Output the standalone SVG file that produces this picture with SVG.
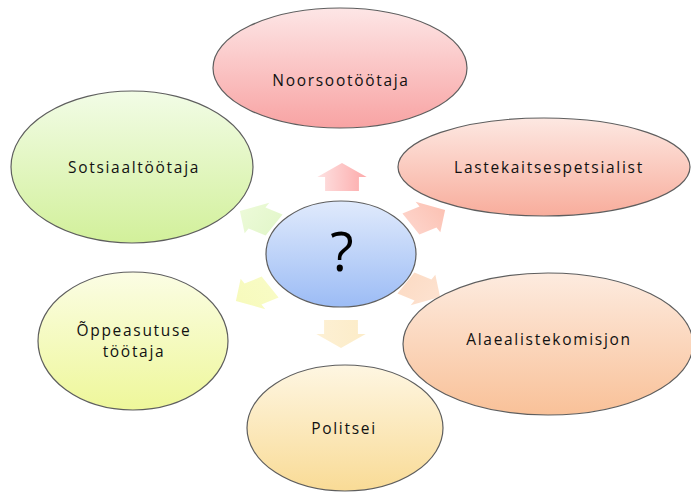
<svg xmlns="http://www.w3.org/2000/svg" width="691" height="495" viewBox="0 0 691 495">
<defs>
<linearGradient id="gRed" x1="0" y1="0" x2="0" y2="1"><stop offset="0" stop-color="#fde6e6"/><stop offset="1" stop-color="#f8a3a3"/></linearGradient>
<linearGradient id="gSalmon" x1="0" y1="0" x2="0" y2="1"><stop offset="0" stop-color="#fde8e2"/><stop offset="1" stop-color="#f8ad9c"/></linearGradient>
<linearGradient id="gPeach" x1="0" y1="0" x2="0" y2="1"><stop offset="0" stop-color="#fdebdf"/><stop offset="1" stop-color="#f9c198"/></linearGradient>
<linearGradient id="gOrange" x1="0" y1="0" x2="0" y2="1"><stop offset="0" stop-color="#fef6e2"/><stop offset="1" stop-color="#f9db96"/></linearGradient>
<linearGradient id="gYellow" x1="0" y1="0" x2="0" y2="1"><stop offset="0" stop-color="#fbfde4"/><stop offset="1" stop-color="#eef79a"/></linearGradient>
<linearGradient id="gGreen" x1="0" y1="0" x2="0" y2="1"><stop offset="0" stop-color="#f2fce6"/><stop offset="1" stop-color="#d2f09a"/></linearGradient>
<linearGradient id="gBlue" x1="0" y1="0" x2="0" y2="1"><stop offset="0" stop-color="#e0eafc"/><stop offset="1" stop-color="#9cbcf5"/></linearGradient>
<linearGradient id="aRed" x1="0" y1="1" x2="0" y2="0"><stop offset="0" stop-color="#fdaaaa"/><stop offset="1" stop-color="#fde2e2"/></linearGradient>
<linearGradient id="aSalmon" x1="0" y1="0" x2="1" y2="0"><stop offset="0" stop-color="#fdd2c8"/><stop offset="1" stop-color="#fcc2b4"/></linearGradient>
<linearGradient id="aPeach" x1="0" y1="0" x2="1" y2="0"><stop offset="0" stop-color="#fcdcc6"/><stop offset="1" stop-color="#fde2d0"/></linearGradient>
<linearGradient id="aOrange" x1="0" y1="0" x2="0" y2="1"><stop offset="0" stop-color="#fcecc8"/><stop offset="1" stop-color="#fdf0d4"/></linearGradient>
<linearGradient id="aYellow" x1="0" y1="0" x2="1" y2="0"><stop offset="0" stop-color="#f8fbc4"/><stop offset="1" stop-color="#f7fabc"/></linearGradient>
<linearGradient id="aGreen" x1="0" y1="0" x2="1" y2="0"><stop offset="0" stop-color="#e4f7cc"/><stop offset="1" stop-color="#ecfad8"/></linearGradient>
<path id="arr" d="M-14,-12 L0,-12 L0,-17.5 L14,0 L0,17.5 L0,12 L-14,12 Z"/>
</defs>
<style>
.node ellipse{stroke:#5e5e5e;stroke-width:1.2}
.lbl{font-family:"Open Sans","Liberation Sans",sans-serif;font-size:15.5px;fill:#111;text-anchor:middle;letter-spacing:1.7px}
.q{font-family:"Open Sans","Liberation Sans",sans-serif;font-size:54px;fill:#000;text-anchor:middle}
</style>
<g id="connectors">
<use href="#arr" fill="url(#aRed)" transform="translate(342,177) scale(1.41,1) rotate(-90)"/>
<use href="#arr" fill="url(#aSalmon)" transform="translate(428,217) scale(1.41,1) rotate(-30)"/>
<use href="#arr" fill="url(#aPeach)" transform="translate(423,290) scale(1.41,1) rotate(30)"/>
<use href="#arr" fill="url(#aOrange)" transform="translate(341,334) scale(1.41,1) rotate(90)"/>
<use href="#arr" fill="url(#aYellow)" transform="translate(253,294) scale(1.41,1) rotate(150)"/>
<use href="#arr" fill="url(#aGreen)" transform="translate(257,218) scale(1.41,1) rotate(210)"/>
</g>
<g id="n-noorsoo" class="node"><ellipse cx="340" cy="68" rx="127" ry="60" fill="url(#gRed)"/><text class="lbl" x="341" y="86">Noorsootöötaja</text></g>
<g id="n-lastekaitse" class="node"><ellipse cx="544" cy="167" rx="146" ry="49" fill="url(#gSalmon)"/><text class="lbl" x="549" y="173">Lastekaitsespetsialist</text></g>
<g id="n-alaealiste" class="node"><ellipse cx="548" cy="344" rx="145" ry="71" fill="url(#gPeach)"/><text class="lbl" x="549" y="345">Alaealistekomisjon</text></g>
<g id="n-politsei" class="node"><ellipse cx="345" cy="428" rx="98" ry="63" fill="url(#gOrange)"/><text class="lbl" x="344" y="434">Politsei</text></g>
<g id="n-oppeasutuse" class="node"><ellipse cx="133" cy="341" rx="95" ry="69" fill="url(#gYellow)"/><text class="lbl" x="134" y="336">Õppeasutuse</text><text class="lbl" x="134" y="357">töötaja</text></g>
<g id="n-sotsiaal" class="node"><ellipse cx="132" cy="167" rx="121" ry="76" fill="url(#gGreen)"/><text class="lbl" x="134" y="173">Sotsiaaltöötaja</text></g>
<g id="n-center" class="node"><ellipse cx="341" cy="254" rx="75" ry="53" fill="url(#gBlue)"/><text class="q" x="342" y="271">?</text></g>
</svg>
